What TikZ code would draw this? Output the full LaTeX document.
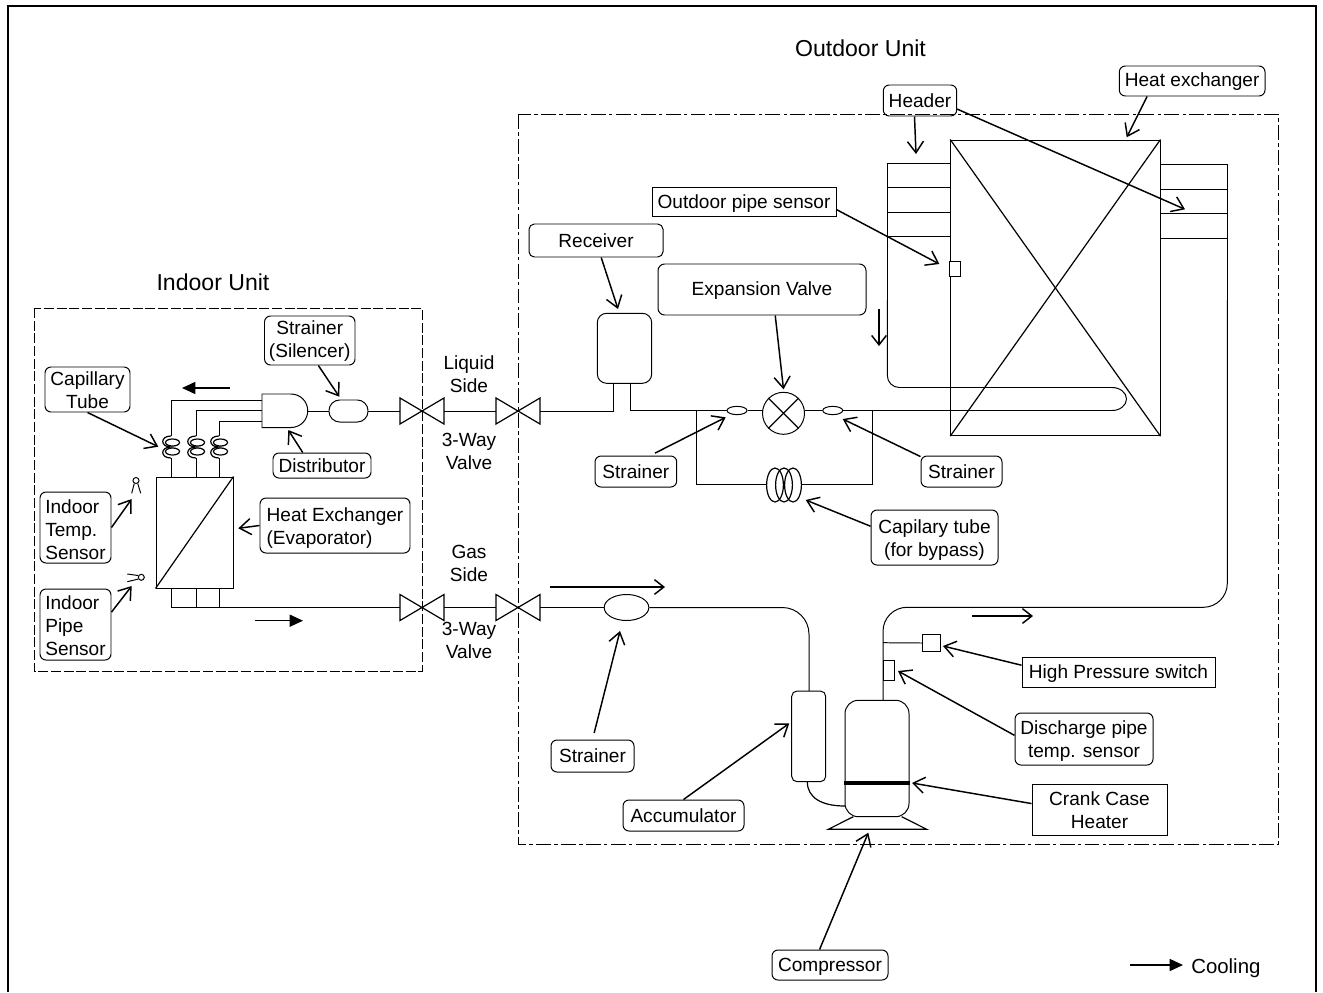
\documentclass[tikz,border=0pt]{standalone}
\usepackage{fontspec}
\setmainfont{Liberation Sans}
\usetikzlibrary{arrows.meta,shapes.geometric}
\tikzset{
  span/.style n args={4}{minimum width={(#3-#1)*0.75pt},minimum height={(#4-#2)*0.75pt},at={({(#1+#3)/2},{(#2+#4)/2})}},
  lab/.style={draw,line width=0.74pt,rounded corners=4.5pt,inner sep=0pt,align=center,font=\fontsize{14.3}{17.25}\selectfont,
    text height=13.2pt,text depth=3pt},
  labtwo/.style={lab,text height=30.75pt},
  labsq/.style={lab,sharp corners},
  lableft/.style={lab,align=left,text depth=0pt},
  txt/.style={inner sep=0pt,align=center,font=\fontsize{14.3}{17.25}\selectfont},
  title/.style={inner sep=0pt,font=\fontsize{17.3}{20}\selectfont},
  comp/.style={draw,line width=0.74pt,inner sep=0pt},
  pipe/.style={line width=0.74pt,line join=miter},
  diag/.style={line width=0.9pt},
  ptr/.style={line width=1.1pt,-{Straight Barb[length=8.5pt,width=12pt,line width=1.1pt]}},
  flow/.style={line width=1.1pt,-{Triangle[length=10pt,width=9pt]}},
  flowopen/.style={line width=1.1pt,-{Straight Barb[length=7pt,width=11pt,line width=1.1pt]}},
  indoorbox/.style={line width=0.75pt,dash pattern=on 7.5pt off 2pt},
  outdoorbox/.style={line width=0.75pt,dash pattern=on 11.2pt off 2.5pt on 2.5pt off 2.5pt},
  bowtie/.pic={\draw[diag] (-22,-13)--(22,13)--(22,-13)--(-22,13)--cycle;
    \coordinate (-l) at (-22,0); \coordinate (-r) at (22,0);},
  coil/.pic={\draw[diag] (0,-11) .. controls (-11,-11) and (-11,0) .. (0,0) .. controls (-11,0) and (-11,11) .. (0,11);
    \draw[diag] (1.5,-4.5) ellipse [x radius=7,y radius=3.5];
    \draw[diag] (1.5,4.5) ellipse [x radius=7,y radius=3.5];
    \coordinate (-t) at (0,-11); \coordinate (-b) at (0,11);},
}
\begin{document}
\begin{tikzpicture}[x=0.75pt,y=-0.75pt]
\useasboundingbox (0,0) rectangle (1323,992);
\draw[line width=1.5pt] (8,992) -- (8,6) -- (1316,6) -- (1316,992);

% unit outlines and titles
\draw[indoorbox] (34,308) rectangle (422,671);
\draw[outdoorbox] (518,114) rectangle (1278,844);
\node[title] (tIn) at (213,282) {Indoor Unit};
\node[title] (tOut) at (860.5,48) {Outdoor Unit};

% valves
\pic (va) at (422,411) {bowtie};
\pic (vb) at (518,411) {bowtie};
\pic (vc) at (422,607.5) {bowtie};
\pic (vd) at (518,607.5) {bowtie};
\node[txt] (tLiq) at (469,374) {Liquid\\Side};
\node[txt] (tW1) at (469,451.5) {3-Way\\Valve};
\node[txt] (tGas) at (469,563) {Gas\\Side};
\node[txt] (tW2) at (469,640.5) {3-Way\\Valve};
\draw[pipe] (va-r) -- (vb-l);
\draw[pipe] (vc-r) -- (vd-l);

% indoor components
\node[comp,span={156}{477}{233}{588}] (hxI) {};
\draw[diag] (hxI.south west) -- (hxI.north east);
\node[comp,rounded corners=8pt,span={329}{400}{368}{422}] (stS) {};
\draw[pipe] (262,394) -- (291,394) arc[start angle=-90,end angle=90,radius=16.75] -- (262,427.5) -- cycle;
\coordinate (distE) at (308,411);
\draw[pipe] (distE) -- (stS.west);
\draw[pipe] (stS.east) -- (va-l);
\pic (c1) at (171,447) {coil};
\pic (c2) at (196,447) {coil};
\pic (c3) at (219,447) {coil};
\draw[pipe] (262,400.7) -- (171,400.7) -- (c1-t);
\draw[pipe] (262,410.7) -- (196,410.7) -- (c2-t);
\draw[pipe] (262,421.7) -- (219,421.7) -- (c3-t);
\draw[pipe] (c1-b) -- (171,477);
\draw[pipe] (c2-b) -- (196,477);
\draw[pipe] (c3-b) -- (219,477);
\draw[pipe] (171,588) -- (171,607.5) -- (vc-l);
\draw[pipe] (196,588) -- (196,607.5);
\draw[pipe] (219,588) -- (219,607.5);
\draw[flow] (230,388) -- (182,388);
\draw[flow] (255,620.7) -- (303,620.7);

% indoor sensors
\node[comp,circle,minimum size=4.5pt] (sT) at (136,480.5) {};
\draw[pipe] (sT.-120) -- (131.7,493.3);
\draw[pipe] (sT.-60) -- (140.7,493.3);
\node[comp,circle,minimum size=4.5pt] (sP) at (141.3,577.3) {};
\draw[pipe] (sP.150) -- (127.3,574);
\draw[pipe] (sP.-150) -- (127.3,581.7);

% indoor labels
\node[labtwo,text height=27.75pt,span={264.5}{316}{355}{365}] (lSS) {Strainer\\(Silencer)};
\node[labtwo,text height=28.4pt,text depth=0pt,span={45}{367}{130}{412}] (lCap) {Capillary\\Tube};
\node[lab,span={273}{453}{371}{478}] (lDist) {Distributor};
\node[lableft,text height=47.9pt,span={40}{492}{111}{563}] (lTemp) {Indoor\\Temp.\\Sensor};
\node[lableft,text height=46.4pt,span={40}{589}{111}{660}] (lPipe) {Indoor\\Pipe\\Sensor};
\node[labtwo,align=left,span={260}{498}{410}{553}] (lHXI) {Heat Exchanger\\(Evaporator)};
\coordinate (aSS) at (339.3,396.7);
\coordinate (aCap) at (158.3,446.7);
\coordinate (aDist) at (288.3,430);
\coordinate (aTemp) at (131.7,499);
\coordinate (aPipe) at (131.7,586);
\coordinate (aHXI) at (238.3,528.3);
\draw[ptr] (lSS.-71) -- (aSS);
\draw[ptr] (lCap.south) -- (aCap);
\draw[ptr] (lDist.146) -- (aDist);
\draw[ptr] (lTemp.east) -- (aTemp);
\draw[ptr] (lPipe.19) -- (aPipe);
\draw[ptr] (lHXI.west) -- (aHXI);

% outdoor liquid line
\node[comp,rounded corners=7pt,span={597.3}{313.3}{651.7}{383.3}] (rec) {};
\draw[pipe] (vb-r) -- (613.3,411) -- (613.3,383.3);
\node[comp,ellipse,minimum width=15pt,minimum height=6.2pt] (st1) at (737,410.5) {};
\node[comp,ellipse,minimum width=15pt,minimum height=6.2pt] (st2) at (832.7,410.5) {};
\node[comp,circle,minimum size=31.5pt] (ev) at (783.5,413.3) {};
\draw[diag] (ev.45) -- (ev.-135);
\draw[diag] (ev.135) -- (ev.-45);
\draw[pipe] (630.3,383.3) -- (630.3,410.5) -- (st1.west);
\draw[pipe] (st1.east) -- (762.5,410.5);
\draw[pipe] (804.5,410.5) -- (st2.west);
\draw[pipe] (696.3,410.5) -- (696.3,484.5) -- (766.7,484.5);
\draw[pipe] (801.7,484.5) -- (872.3,484.5) -- (872.3,410.5);
\draw[diag] (775,485) ellipse [x radius=8.4,y radius=17];
\draw[diag] (784,485) ellipse [x radius=8.4,y radius=17];
\draw[diag] (793,485) ellipse [x radius=8.4,y radius=17];

% outdoor heat exchanger
\node[comp,span={950.7}{140}{1160}{435.7}] (hxO) {};
\draw[diag] (hxO.north west) -- (hxO.south east);
\draw[diag] (hxO.north east) -- (hxO.south west);
\draw[pipe] (st2.east) -- (1112,410.5) arc[start angle=90,end angle=0,x radius=14.5,y radius=11.5] arc[start angle=0,end angle=-90,x radius=14.5,y radius=11.5] -- (905,387.5);
\draw[pipe,rounded corners=9pt] (905,387.5) -- (887.3,387.5) -- (887.3,300);
\draw[pipe] (887.3,300) -- (887.3,163.3) -- (950.7,163.3);
\draw[pipe] (887.3,187.7) -- (950.7,187.7);
\draw[pipe] (887.3,212.3) -- (950.7,212.3);
\draw[pipe] (887.3,236.7) -- (950.7,236.7);
\draw[pipe] (1160,164.3) -- (1227.3,164.3);
\draw[pipe] (1160,189) -- (1227.3,189);
\draw[pipe] (1160,213.7) -- (1227.3,213.7);
\draw[pipe] (1160,238.3) -- (1227.3,238.3);
\node[comp,fill=white,span={949.3}{261.7}{960.7}{276.7}] (opS) {};
\draw[flowopen] (879,309) -- (879,346);

% compressor circuit
\node[comp,rounded corners=10pt,span={845}{700.3}{909}{816.7}] (cp) {};
\draw[line width=3pt] (844,783) -- (910,783);
\draw[diag] (853.3,816.7) -- (828.3,829.3) -- (926.7,829.3) -- (901.7,816.7);
\node[comp,rounded corners=4pt,span={791.7}{691}{825.7}{781.7}] (acc) {};
\node[comp,ellipse,minimum width=33.5pt,minimum height=19.5pt] (st3) at (626.5,607.5) {};
\draw[pipe] (vd-r) -- (st3.west);
\draw[pipe,rounded corners=20pt] (st3.east) -- (809,607.5) -- (809,691);
\draw[diag] (807.3,781.7) .. controls (807.3,798) and (822,806) .. (845,806);
\draw[pipe,rounded corners=18pt] (883,700.3) -- (883,607.3) -- (1227.3,607.3) -- (1227.3,300);
\draw[pipe] (1227.3,300) -- (1227.3,164.3);
\node[comp,fill=white,span={922.3}{634.3}{940}{651.7}] (hp) {};
\draw[pipe] (883,642.7) -- (hp.west);
\node[comp,span={883}{660.7}{894.7}{680}] (dp) {};
\draw[flowopen] (550,587) -- (665,587);
\draw[flowopen] (972,616) -- (1033,616);

% outdoor labels
\node[lab,rounded corners=4pt,span={529}{224}{663}{257}] (lRec) {Receiver};
\node[lab,rounded corners=5pt,text height=11.7pt,span={658}{264}{866}{315}] (lEV) {Expansion Valve};
\node[lab,span={595}{456}{676.7}{487}] (lSt1) {Strainer};
\node[lab,span={921}{456}{1002}{487}] (lSt2) {Strainer};
\node[labtwo,span={871}{510}{998}{565}] (lCB) {Capilary tube\\(for bypass)};
\node[labsq,span={652}{187}{836}{216}] (lOP) {Outdoor pipe sensor};
\node[lab,span={883.3}{85}{956.7}{116}] (lHd) {Header};
\node[lab,text height=11.7pt,span={1119.3}{66}{1265}{96}] (lHXO) {Heat exchanger};
\node[labsq,span={1022}{657}{1215}{687}] (lHP) {High Pressure switch};
\node[labtwo,span={1015}{713}{1153}{765}] (lDP) {Discharge pipe\\temp. sensor};
\node[labtwo,sharp corners,text height=27.75pt,text depth=0pt,span={1032}{784}{1167}{835}] (lCC) {Crank Case\\Heater};
\node[lab,span={772}{950}{888}{980}] (lCp) {Compressor};
\node[lab,span={551}{740}{634}{772}] (lSt3) {Strainer};
\node[lab,span={623}{800}{744}{831}] (lAcc) {Accumulator};
\coordinate (aRec) at (618,309);
\coordinate (aEV) at (783.5,389.3);
\coordinate (aSt1) at (725.7,417.3);
\coordinate (aSt2) at (842.7,419);
\coordinate (aCB) at (805.7,500);
\coordinate (aOP) at (939.3,264);
\coordinate (aHd1) at (916,154);
\coordinate (aHd2) at (1185,209.3);
\coordinate (aHXO) at (1126.7,137.3);
\coordinate (aHP) at (943,646);
\coordinate (aDP) at (898,671);
\coordinate (aCC) at (912,783);
\coordinate (aCp) at (868.3,832.7);
\coordinate (aSt3) at (620,631);
\coordinate (aAcc) at (789.3,723.3);
\draw[ptr] (lRec.-73) -- (aRec);
\draw[ptr] (lEV.-63) -- (aEV);
\draw[ptr,shorten <=4pt] (lSt1.48) -- (aSt1);
\draw[ptr] (lSt2.160) -- (aSt2);
\draw[ptr] (lCB.170) -- (aCB);
\draw[ptr] (lOP.-5) -- (aOP);
\draw[ptr] (lHd.-109) -- (aHd1);
\draw[ptr] (lHd.-13) -- (aHd2);
\draw[ptr] (lHXO.-161) -- (aHXO);
\draw[ptr] (lHP.176) -- (aHP);
\draw[ptr] (lDP.177) -- (aDP);
\draw[ptr] (lCC.175) -- (aCC);
\draw[ptr] (lCp.124) -- (aCp);
\draw[ptr,shorten <=5pt] (lSt3.north) -- (aSt3);
\draw[ptr] (lAcc.north) -- (aAcc);

% legend
\coordinate (lgA) at (1130,965);
\coordinate (lgB) at (1183,965);
\node[txt,anchor=west,font=\fontsize{15.3}{18}\selectfont] (lgT) at (1191,968) {Cooling};
\draw[flow] (lgA) -- (lgB);
\end{tikzpicture}
\end{document}
